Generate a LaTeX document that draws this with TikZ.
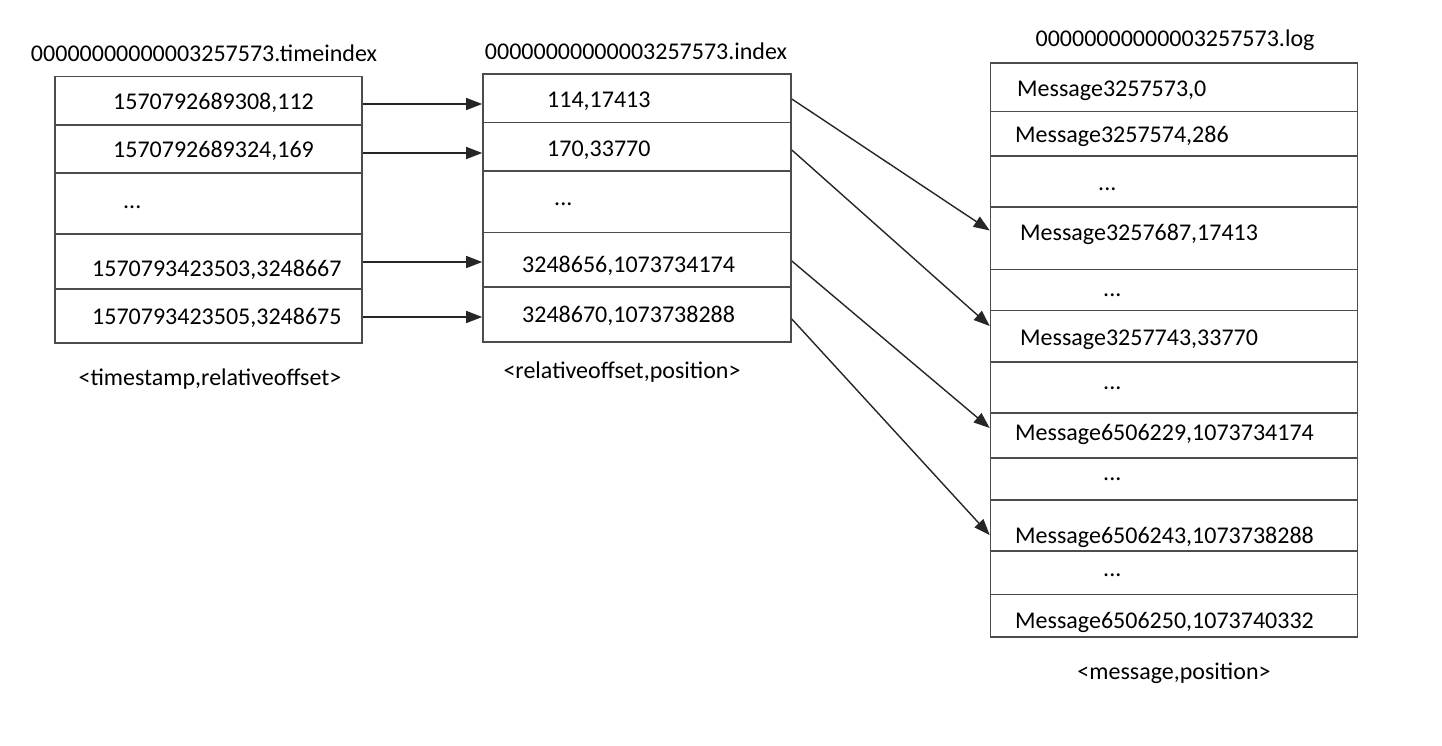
\documentclass[tikz,border=0pt]{standalone}
\usepackage{fontspec}
\setmainfont{Carlito}
\usetikzlibrary{arrows.meta}
\begin{document}
\begin{tikzpicture}[x=1pt,y=-1pt,
  cell/.style={draw=black!70, line width=1.6pt, inner sep=0pt, minimum height=#1},
  colL/.style={cell=#1, minimum width=307pt},
  colM/.style={cell=#1, minimum width=308pt},
  colR/.style={cell=#1, minimum width=367pt},
  txt/.style={inner sep=0pt, anchor=base west, font=\fontsize{24}{28}\selectfont},
  ttl/.style={inner sep=0pt, anchor=base, font=\fontsize{24}{28}\selectfont},
  arr/.style={draw=black!85, line width=1.4pt, -{Triangle[length=16pt,width=12pt]}}]
\useasboundingbox (0,0) rectangle (1442,746);
\fill[white] (0,0) rectangle (1442,746);

% left table
\node[colL=48.5pt] (l1) at (208.5,100.75) {};
\node[colL=48pt]   (l2) at (208.5,149) {};
\node[colL=61pt]   (l3) at (208.5,203.5) {};
\node[colL=55pt]   (l4) at (208.5,261.5) {};
\node[colL=54pt]   (l5) at (208.5,316) {};
\node[ttl] (lt) at (204,62) {00000000000003257573.timeindex};
\node[txt] (lx1) at (113,110) {1570792689308,112};
\node[txt] (lx2) at (113,158) {1570792689324,169};
\node[txt] (lx3) at (123,208) {...};
\node[txt] (lx4) at (92,276) {1570793423503,3248667};
\node[txt] (lx5) at (92,324) {1570793423505,3248675};
\node[ttl] (lb) at (210,385) {<timestamp,relativeoffset>};

% middle table
\node[colM=48.5pt] (m1) at (637,98.25) {};
\node[colM=48.5pt] (m2) at (637,146.75) {};
\node[colM=61.5pt] (m3) at (637,201.75) {};
\node[colM=54.5pt] (m4) at (637,259.75) {};
\node[colM=55pt]   (m5) at (637,314.5) {};
\node[ttl] (mt) at (636,60) {00000000000003257573.index};
\node[txt] (mx1) at (547,108) {114,17413};
\node[txt] (mx2) at (547,157) {170,33770};
\node[txt] (mx3) at (554,206) {...};
\node[txt] (mx4) at (522,272) {3248656,1073734174};
\node[txt] (mx5) at (522,322) {3248670,1073738288};
\node[ttl] (mb) at (622,378) {<relativeoffset,position>};

% right table
\node[colR=48.5pt] (r1)  at (1174,87.25) {};
\node[colR=44.5pt] (r2)  at (1174,133.75) {};
\node[colR=51pt]   (r3)  at (1174,181.5) {};
\node[colR=62.5pt] (r4)  at (1174,238.25) {};
\node[colR=41pt]   (r5)  at (1174,290) {};
\node[colR=51.5pt] (r6)  at (1174,336.25) {};
\node[colR=51pt]   (r7)  at (1174,387.5) {};
\node[colR=45pt]   (r8)  at (1174,435.5) {};
\node[colR=42pt]   (r9)  at (1174,479) {};
\node[colR=51pt]   (r10) at (1174,525.5) {};
\node[colR=43.5pt] (r11) at (1174,572.75) {};
\node[colR=42.5pt] (r12) at (1174,615.75) {};
\node[ttl] (rt) at (1175,47) {00000000000003257573.log};
\node[txt] (rx1)  at (1017,97)  {Message3257573,0};
\node[txt] (rx2)  at (1015,143) {Message3257574,286};
\node[txt] (rx3)  at (1098,190) {...};
\node[txt] (rx4)  at (1020,240) {Message3257687,17413};
\node[txt] (rx5)  at (1103,296) {...};
\node[txt] (rx6)  at (1020,345) {Message3257743,33770};
\node[txt] (rx7)  at (1103,389) {...};
\node[txt] (rx8)  at (1015,440) {Message6506229,1073734174};
\node[txt] (rx9)  at (1103,480) {...};
\node[txt] (rx10) at (1015,543) {Message6506243,1073738288};
\node[txt] (rx11) at (1103,576) {...};
\node[txt] (rx12) at (1015,628) {Message6506250,1073740332};
\node[ttl] (rb) at (1174,679) {<message,position>};

% arrows left -> middle
\draw[arr] ([yshift=-3.25pt]l1.east) -- ([yshift=-5.75pt]m1.west);
\draw[arr] ([yshift=-4pt]l2.east) -- ([yshift=-6.25pt]m2.west);
\draw[arr] ([yshift=-0.5pt]l4.east) -- ([yshift=-2.25pt]m4.west);
\draw[arr] ([yshift=-1pt]l5.east) -- ([yshift=-2.5pt]m5.west);

% arrows middle -> right
\draw[arr] ([yshift=-0.75pt]m1.east) -- ([yshift=7.75pt]r4.west);
\draw[arr] ([yshift=-3.25pt]m2.east) -- ([yshift=10.25pt]r6.west);
\draw[arr] ([yshift=-1.25pt]m4.east) -- ([yshift=7.5pt]r8.west);
\draw[arr] ([yshift=-4.5pt]m5.east) -- ([yshift=-9.5pt]r10.west);
\end{tikzpicture}
\end{document}
